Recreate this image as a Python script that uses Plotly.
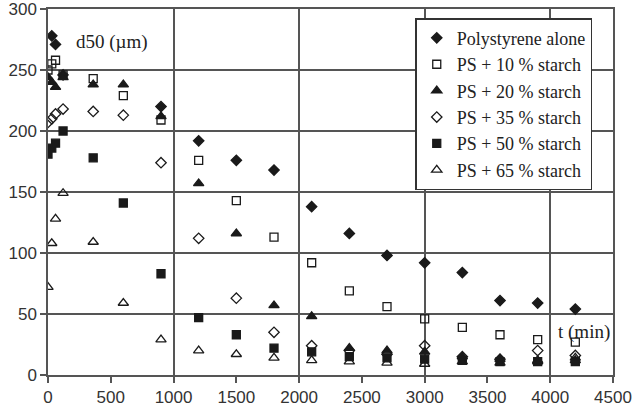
import plotly.graph_objects as go

# time (min)
t_ps = [30, 60, 120, 900, 1200, 1500, 1800, 2100, 2400, 2700, 3000, 3300, 3600, 3900, 4200]
d_ps = [278, 271, 246, 220, 192, 176, 168, 138, 116, 98, 92, 84, 61, 59, 54]

t_all = [0, 30, 60, 120, 360, 600, 900, 1200, 1500, 1800, 2100, 2400, 2700, 3000, 3300, 3600, 3900, 4200]
d_10 = [250, 255, 258, 246, 243, 229, 209, 176, 143, 113, 92, 69, 56, 46, 39, 33, 29, 27]
d_20 = [244, 240, 236, 244, 238, 238, 212, 157, 116, 57, 48, 22, 20, 19, 15, 13, 12, 12]
d_35 = [207, 210, 214, 218, 216, 213, 174, 112, 63, 35, 24, 20, 17, 24, 15, 13, 20, 16]
d_50 = [181, 186, 190, 200, 178, 141, 83, 47, 33, 22, 19, 15, 14, 13, 12, 11, 11, 11]
d_65 = [72, 108, 128, 149, 109, 59, 29, 20, 17, 14, 12, 11, 10, 9, 11, 10, 11, 14]

names = ["Polystyrene alone", "PS + 10 % starch", "PS + 20 % starch",
         "PS + 35 % starch", "PS + 50 % starch", "PS + 65 % starch"]
xs = [t_ps, t_all, t_all, t_all, t_all, t_all]
ys = [d_ps, d_10, d_20, d_35, d_50, d_65]
symbols = ["diamond", "square-open", "triangle-up", "diamond-open", "square", "triangle-up-open"]
sizes = [8, 8, 9, 8, 8, 9]

ink = "#1a1a1a"
grid = "#555555"

fig = go.Figure()
for x, y, n, s, sz in zip(xs, ys, names, symbols, sizes):
    fig.add_trace(go.Scatter(
        x=x, y=y, name=n, mode="markers",
        marker=dict(symbol=s, size=sz, color=ink, line=dict(color=ink, width=1.3)),
    ))

# invisible trace on secondary x axis for 1000-step grid
fig.add_trace(go.Scatter(x=[0], y=[0], xaxis="x2", mode="markers",
                         marker=dict(opacity=0), showlegend=False, hoverinfo="skip"))

fig.update_layout(
    width=634, height=414,
    margin=dict(l=48, r=21, t=9, b=39),
    paper_bgcolor="white", plot_bgcolor="white",
    font=dict(family="Liberation Sans", size=17, color="#333333"),
    xaxis=dict(range=[0, 4500], dtick=500, tick0=0, showgrid=False, automargin=False,
               ticks="outside", ticklen=6, tickcolor=grid, tickwidth=1.5,
               ticklabeloverflow="allow",
               showline=True, linecolor=grid, linewidth=1.5, mirror=True,
               zeroline=False),
    xaxis2=dict(range=[0, 4500], dtick=1000, tick0=0, overlaying="x", automargin=False,
                showgrid=True, gridcolor=grid, gridwidth=1.5,
                showticklabels=False, ticks="", showline=False, zeroline=False),
    yaxis=dict(range=[0, 300], dtick=50, showgrid=True, gridcolor=grid, gridwidth=1.5,
               automargin=False, ticklabeloverflow="allow",
               ticks="outside", ticklen=6, tickcolor=grid, tickwidth=1.5,
               showline=True, linecolor=grid, linewidth=1.5, mirror=True,
               zeroline=False),
    legend=dict(x=0.65, y=0.975, xanchor="left", yanchor="top",
                bgcolor="white", bordercolor="#333333", borderwidth=1.5,
                font=dict(family="Liberation Serif", size=18, color="#222222"),
                itemwidth=30, entrywidth=160, entrywidthmode="pixels"),
    showlegend=True,
    annotations=[
        dict(x=510, y=273, xref="x", yref="y", text="d50 (µm)", showarrow=False,
             font=dict(family="Liberation Serif", size=19, color="#222222")),
        dict(x=4270, y=35, xref="x", yref="y", text="t (min)", showarrow=False,
             font=dict(family="Liberation Serif", size=19, color="#222222")),
    ],
)

fig.write_html("out.html")
